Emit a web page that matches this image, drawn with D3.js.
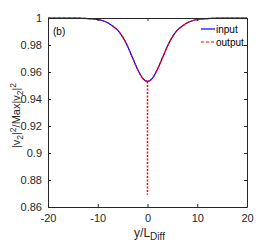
<!DOCTYPE html>
<html>
<head>
<meta charset="utf-8">
<script src="https://cdn.jsdelivr.net/npm/d3@7"></script>
<style>
  body { margin: 0; background: #fff; }
  svg { display: block; font-family: "Liberation Sans", Arial, sans-serif; }
</style>
</head>
<body>
<div id="chart"></div>
<script>
// curve (symmetric about y = 0)
const posX = [-20, -16, -14, -12, -11, -10, -9, -8, -7, -6, -5, -4, -3, -2, -1, 0,
  1, 2, 3, 4, 5, 6, 7, 8, 9, 10, 11, 12, 14, 16, 20];
const inputY = [1, 1, 0.9999, 0.9996, 0.9993, 0.9988, 0.998, 0.9965, 0.994, 0.991, 0.986, 0.979, 0.9705, 0.962, 0.9555, 0.953,
  0.9555, 0.962, 0.9705, 0.979, 0.986, 0.991, 0.994, 0.9965, 0.998, 0.9988, 0.9993, 0.9996, 0.9999, 1, 1];
const outputY = inputY.slice();
const outputSpikeX = 0;
const outputSpikeMin = 0.869;

const xTicks = [-20, -10, 0, 10, 20];
const yTicks = [0.86, 0.88, 0.9, 0.92, 0.94, 0.96, 0.98, 1];
const legendLabels = ["input", "output"];

const W = 266, H = 245;
const margin = { top: 18, right: 19, bottom: 38, left: 48 };
const w = W - margin.left - margin.right;
const h = H - margin.top - margin.bottom;
const axisColor = "#262626";

const svg = d3.select("#chart").append("svg")
  .attr("width", W).attr("height", H);
const g = svg.append("g")
  .attr("transform", `translate(${margin.left},${margin.top})`);

const x = d3.scaleLinear().domain([-20, 20]).range([0, w]);
const y = d3.scaleLinear().domain([0.86, 1]).range([h, 0]);

const line = d3.line()
  .x(d => x(d[0])).y(d => y(d[1]))
  .curve(d3.curveMonotoneX);

// input
g.append("path")
  .datum(posX.map((v, i) => [v, inputY[i]]))
  .attr("fill", "none").attr("stroke", "#0000ff").attr("stroke-width", 1.2)
  .attr("d", line);

// output (dashed) + narrow spike at centre
g.append("path")
  .datum(posX.map((v, i) => [v, outputY[i]]))
  .attr("fill", "none").attr("stroke", "#ff0000").attr("stroke-width", 1.2)
  .attr("stroke-dasharray", "3,2")
  .attr("d", line);
const spikeTop = outputY[posX.indexOf(outputSpikeX)];
g.append("line")
  .attr("x1", x(outputSpikeX)).attr("x2", x(outputSpikeX))
  .attr("y1", y(spikeTop)).attr("y2", y(outputSpikeMin))
  .attr("stroke", "#ff0000").attr("stroke-width", 1.5)
  .attr("stroke-dasharray", "2,1.5");

// axes, MATLAB style: ticks inside, box on
const tickLen = 3;
const fmtX = d => String(d);          // plain hyphen minus, like the original
const fmtY = d => String(+d.toFixed(2));
g.append("g").attr("transform", `translate(0,${h})`)
  .call(d3.axisBottom(x).tickValues(xTicks).tickSizeInner(-tickLen).tickSizeOuter(0).tickPadding(7).tickFormat(fmtX))
  .call(a => a.selectAll("text").attr("font-size", 11));
g.append("g")
  .call(d3.axisTop(x).tickValues(xTicks).tickSizeInner(-tickLen).tickSizeOuter(0).tickFormat(""));
g.append("g")
  .call(d3.axisLeft(y).tickValues(yTicks).tickSizeInner(-tickLen).tickSizeOuter(0).tickPadding(6).tickFormat(fmtY))
  .call(a => a.selectAll("text").attr("font-size", 11));
g.append("g").attr("transform", `translate(${w},0)`)
  .call(d3.axisRight(y).tickValues(yTicks).tickSizeInner(-tickLen).tickSizeOuter(0).tickFormat(""));
g.selectAll(".domain, .tick line").attr("stroke", axisColor);
g.selectAll(".tick text").attr("fill", axisColor);

// panel tag
g.append("text").attr("x", 5).attr("y", 17)
  .attr("font-size", 10).attr("fill", "#000").text("(b)");

// legend
const leg = g.append("g").attr("transform", `translate(${w - 46},11)`);
legendLabels.forEach((lab, i) => {
  const row = leg.append("g").attr("transform", `translate(0,${i * 13})`);
  row.append("line").attr("x1", 0).attr("x2", 14).attr("y1", 0).attr("y2", 0)
    .attr("stroke", i === 0 ? "#0000ff" : "#ff0000").attr("stroke-width", 1.2)
    .attr("stroke-dasharray", i === 0 ? null : "3,2");
  row.append("text").attr("x", 15).attr("y", 3.5)
    .attr("font-size", 10).attr("fill", "#000").text(lab);
});

// axis labels
const xl = svg.append("text")
  .attr("x", margin.left + w / 2 + 2).attr("y", H - 8)
  .attr("text-anchor", "middle").attr("font-size", 12).attr("fill", axisColor);
xl.append("tspan").text("y/L");
xl.append("tspan").attr("font-size", 10).attr("dy", 3).text("Diff");

const yl = svg.append("text")
  .attr("transform", `translate(20,${margin.top + h / 2 + 3}) rotate(-90)`)
  .attr("text-anchor", "middle").attr("font-size", 11).attr("fill", axisColor);
yl.append("tspan").text("|v");
yl.append("tspan").attr("font-size", 8.5).attr("dy", 3).text("2");
yl.append("tspan").attr("dy", -3).text("|");
yl.append("tspan").attr("font-size", 8.5).attr("dy", -4).text("2");
yl.append("tspan").attr("dy", 4).text("/Max|v");
yl.append("tspan").attr("font-size", 8.5).attr("dy", 3).text("2");
yl.append("tspan").attr("dy", -3).text("|");
yl.append("tspan").attr("font-size", 8.5).attr("dy", -4).text("2");
</script>
</body>
</html>
